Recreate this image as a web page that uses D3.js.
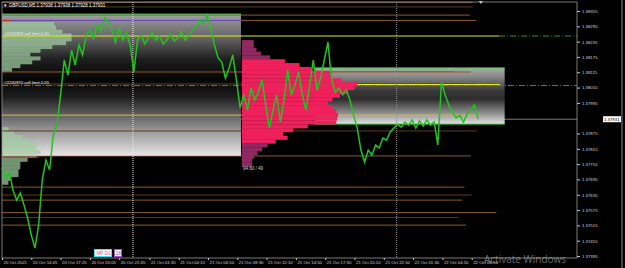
<!DOCTYPE html>
<html lang="en">
<head>
<meta charset="UTF-8" />
<title>GBPUSD,M5</title>
<script src="https://cdn.jsdelivr.net/npm/d3@7"></script>
<style>
  body { margin: 0; background: #000; overflow: hidden; }
  svg { display: block; font-family: "Liberation Sans", Arial, sans-serif; }
</style>
</head>
<body>
<svg id="chart"></svg>
<script>
const W = 625, H = 268;
const frame = {left: 2, right: 577, top: 2, bottom: 258};

// x is counted in 5-minute bars from 20 Oct 2021 12:05
const barCount = 628;
const closeStep = 4; // one close read every 4 bars
const closes = [
  1.37740, 1.37700, 1.37724, 1.37653, 1.37614, 1.37642, 1.37595, 1.37544, 1.37477, 1.37426,
  1.37516, 1.37693, 1.37771, 1.37732, 1.37869, 1.37908, 1.38026, 1.38163, 1.38104, 1.38202,
  1.38143, 1.38222, 1.38183, 1.38261, 1.38281, 1.38249, 1.38300, 1.38273, 1.38328, 1.38312,
  1.38281, 1.38233, 1.38288, 1.38241, 1.38269, 1.38222, 1.38116, 1.38241, 1.38261, 1.38226,
  1.38249, 1.38269, 1.38241, 1.38257, 1.38226, 1.38241, 1.38265, 1.38237, 1.38249, 1.38273,
  1.38241, 1.38257, 1.38281, 1.38296, 1.38320, 1.38304, 1.38339, 1.38288, 1.38222, 1.38171,
  1.38155, 1.38092, 1.38132, 1.38183, 1.38085, 1.37975, 1.38026, 1.37967, 1.38053, 1.38006,
  1.38037, 1.38085, 1.37987, 1.37896, 1.37967, 1.38026, 1.37920, 1.38006, 1.38124, 1.38026,
  1.38065, 1.38116, 1.38026, 1.37967, 1.38065, 1.38163, 1.38045, 1.38092, 1.38163, 1.38233,
  1.38085, 1.38037, 1.38053, 1.38026, 1.38045, 1.38006, 1.37947, 1.37896, 1.37810, 1.37763,
  1.37810, 1.37790, 1.37830, 1.37818, 1.37857, 1.37849, 1.37881, 1.37896, 1.37912, 1.37900,
  1.37920, 1.37908, 1.37928, 1.37896, 1.37924, 1.37904, 1.37928, 1.37908, 1.37920, 1.37830,
  1.38077, 1.38026, 1.37987, 1.37959, 1.37936, 1.37947, 1.37920, 1.37951, 1.37967, 1.37987,
  1.37931
];
const lastPrice = 1.37931;

const yTicks = [1.38355, 1.38295, 1.38235, 1.38175, 1.38115, 1.38055, 1.37995, 1.37875,
  1.37815, 1.37755, 1.37695, 1.37635, 1.37575, 1.37515, 1.37455, 1.37395];
const xTickBars = [0, 32, 64, 96, 128, 161, 193, 225, 257, 289, 321, 353, 385, 417, 449, 481, 513];
const xTickLabels = ["20 Oct 2021", "20 Oct 14:45", "20 Oct 17:25", "20 Oct 20:05", "20 Oct 22:45",
  "21 Oct 01:30", "21 Oct 04:10", "21 Oct 06:50", "21 Oct 09:30", "21 Oct 12:10", "21 Oct 14:50",
  "21 Oct 17:30", "21 Oct 20:10", "21 Oct 22:50", "22 Oct 01:30", "22 Oct 04:10", "22 Oct 06:50"];

// support / resistance levels (price, last bar)
const levelPrices = [1.38389, 1.38371, 1.38339, 1.38318, 1.38116, 1.38069, 1.37885, 1.37787,
  1.37665, 1.37634, 1.37614, 1.37565, 1.37546, 1.37516];
const levelEnds = [514, 514, 511, 518, 512, 517, 519, 512, 505, 513, 503, 540, 498, 507];
const levelShade = [0, 1, 0, 0, 0, 1, 1, 0, 0, 1, 0, 0, 1, 0];

// market profile rows
const rowStep = 0.00015;
const pinkTop = 1.38241, pinkStartBar = 262;
const pinkCounts = [13, 13, 16, 21, 31, 47, 63, 76, 98, 98, 109, 126, 123, 116, 107, 99, 94,
  99, 103, 105, 104, 103, 72, 56, 45, 50, 37, 28, 22, 17, 13, 11, 11];
const pinkValueArea = [5, 26];
const greenUpperTop = 1.38312;
const greenUpperCounts = [57, 59, 66, 76, 76, 70, 55, 42, 31, 42, 33, 20, 11];
const greenLowerTop = 1.37900;
const greenLowerCounts = [7, 13, 22, 31, 38, 38, 42, 37, 28, 20, 20, 18, 18, 9, 7];

// value area boxes [startBar, endBar, high, low]
const boxA = [0, 261, 1.38343, 1.37787];
const boxC = [342, 549, 1.38132, 1.37912];

const svg = d3.select("#chart").attr("width", W).attr("height", H)
  .style("background", "#000");

const x = d3.scaleLinear().domain([0, barCount]).range([frame.left, frame.right]);
const y = d3.scaleLinear().domain([1.37395, 1.38355]).range([256, 11]);

const defs = svg.append("defs");
function vGrad(id, stops) {
  const g = defs.append("linearGradient").attr("id", id)
    .attr("x1", 0).attr("y1", 0).attr("x2", 0).attr("y2", 1);
  stops.forEach(s => g.append("stop").attr("offset", s[0]).attr("stop-color", s[1]));
}
vGrad("gradA", [[0, "#a0a0a8"], [0.05, "#8c8c8c"], [0.18, "#606060"], [0.32, "#1e1e1e"],
  [0.46, "#060606"], [0.58, "#1c1c1c"], [0.7, "#5a5a5a"], [0.83, "#9c9c9c"], [0.96, "#d4d4d4"], [1, "#ece4e8"]]);
vGrad("gradC", [[0, "#aaaaaa"], [0.15, "#8a8a8a"], [0.4, "#3a3a3a"], [0.55, "#2c2c2c"],
  [0.8, "#8c8c8c"], [1, "#e2e2e2"]]);

const plot = svg.append("g");

// current price line sits under the boxes
plot.append("line")
  .attr("x1", frame.left).attr("x2", frame.right)
  .attr("y1", y(lastPrice)).attr("y2", y(lastPrice))
  .attr("stroke", "#7a7a7a").attr("stroke-width", 1);

// value area boxes
[[boxA, "gradA"], [boxC, "gradC"]].forEach(([b, g]) => {
  plot.append("rect")
    .attr("x", x(b[0])).attr("y", y(b[2]))
    .attr("width", x(b[1]) - x(b[0])).attr("height", y(b[3]) - y(b[2]))
    .attr("fill", `url(#${g})`);
});

// green profile of 20 Oct
function profile(top, counts, startBar, colorFn) {
  plot.append("g").selectAll("rect").data(counts).join("rect")
    .attr("x", x(startBar))
    .attr("y", (d, i) => y(top - i * rowStep))
    .attr("width", d => x(startBar + d) - x(startBar))
    .attr("height", y(0) - y(rowStep) + 0.2)
    .attr("fill", colorFn);
}
profile(greenUpperTop, greenUpperCounts, 0, () => "rgba(160,205,160,0.72)");
profile(greenLowerTop, greenLowerCounts, 0, () => "rgba(160,205,160,0.72)");

// levels
plot.append("g").selectAll("line").data(levelPrices).join("line")
  .attr("x1", frame.left).attr("x2", (d, i) => x(levelEnds[i]))
  .attr("y1", d => y(d)).attr("y2", d => y(d))
  .attr("stroke", (d, i) => levelShade[i] ? "#5e3b1c" : "#8f5c2e")
  .attr("stroke-width", 1);

function hline(p, b0, b1, color, dash) {
  plot.append("line")
    .attr("x1", x(b0)).attr("x2", x(b1))
    .attr("y1", y(p)).attr("y2", y(p))
    .attr("stroke", color).attr("stroke-width", 1)
    .attr("stroke-dasharray", dash || null);
}
// box borders and inner lines
hline(boxA[2], 0, boxA[1], "#2ed02e");
hline(1.38318, 0, boxA[1], "#6c4cc0");
hline(boxA[3] + 0.00003, 0, boxA[1], "#e8d0dc");
hline(boxC[2], boxC[0], boxC[1], "#30e030");
hline(boxC[3], boxC[0], boxC[1], "#30e030");
hline(1.38118, boxC[0], 494, "#7a5cc8");
hline(1.37947, 0, 519, "#d8b838");
hline(1.38067, boxC[0], 544, "#e8e820");
hline(1.38318, 0, 11, "#c03030");
hline(1.37782, 0, 40, "#c03030");

// sell limit orders
hline(1.38257, 0, 543, "#e6e61e");
hline(1.38257, 543, barCount, "#2a9a2a", "6,2,1,2");
hline(1.38063, 0, barCount, "#2a9a2a", "6,2,1,2");

// pink profile of 21 Oct
profile(pinkTop, pinkCounts, pinkStartBar, (d, i) =>
  i >= pinkValueArea[0] && i <= pinkValueArea[1] ? "#f0205c" : "#8e2a60");

// day separators
[[143, "#e8e8e8"], [431, "#8a8a8a"]].forEach(([b, c]) => {
  plot.append("line")
    .attr("x1", x(b)).attr("x2", x(b))
    .attr("y1", frame.top).attr("y2", frame.bottom)
    .attr("stroke", c).attr("stroke-dasharray", "1,1");
});

// price
const priceLine = d3.line()
  .x((d, i) => x(i * closeStep))
  .y(d => y(d));
plot.append("path").datum(closes)
  .attr("d", priceLine)
  .attr("fill", "none")
  .attr("stroke", "#22c422")
  .attr("stroke-width", 1.5)
  .attr("stroke-linejoin", "miter");

// frame
svg.append("rect")
  .attr("x", frame.left).attr("y", frame.top)
  .attr("width", frame.right - frame.left).attr("height", frame.bottom - frame.top)
  .attr("fill", "none").attr("stroke", "#9a9a9a").attr("stroke-width", 0.8);
svg.append("line").attr("x1", 622).attr("x2", 622).attr("y1", 0).attr("y2", H)
  .attr("stroke", "#8a8a8a");

// axes
const yAxis = svg.append("g")
  .attr("transform", `translate(${frame.right},0)`)
  .call(d3.axisRight(y).tickValues(yTicks).tickSize(3).tickFormat(d3.format(".5f")));
const xAxis = svg.append("g")
  .attr("transform", `translate(0,${frame.bottom})`)
  .call(d3.axisBottom(x).tickValues(xTickBars).tickSize(2).tickFormat((d, i) => xTickLabels[i]));
[yAxis, xAxis].forEach(a => {
  a.select(".domain").remove();
  a.selectAll("line").attr("stroke", "#c8c8c8");
  a.selectAll("text").attr("fill", "#d8d8d8").style("font-size", "4.3px");
});
yAxis.selectAll("text").attr("x", 5);
xAxis.selectAll("text").attr("text-anchor", "start").attr("x", 1).attr("y", 4).attr("dy", "0.5em");

// current price tag
svg.append("rect").attr("x", 603).attr("y", y(lastPrice) - 3)
  .attr("width", 18).attr("height", 6).attr("fill", "#fff");
svg.append("text").attr("x", 604).attr("y", y(lastPrice) + 1.6)
  .attr("fill", "#000").style("font-size", "4.3px").text(d3.format(".5f")(lastPrice));

// texts
svg.append("text").attr("x", 3).attr("y", 6.5).attr("fill", "#fff")
  .style("font-size", "4.5px").text("\u25BC GBPUSD,M5  1.37938 1.37938 1.37928 1.37931");
svg.append("text").attr("x", 4).attr("y", y(1.38257) - 1).attr("fill", "#f0f0f0")
  .style("font-size", "4.3px").text("#2240969 sell limit 0.05");
svg.append("text").attr("x", 4).attr("y", y(1.38063) - 1.5).attr("fill", "#f0f0f0")
  .style("font-size", "4.3px").text("#2240970 sell limit 0.05");
svg.append("text").attr("x", x(pinkStartBar) + 1).attr("y", 170).attr("fill", "#d0d0d0")
  .style("font-size", "4.5px").text("94.60 / 49");

// chart shift marker
svg.append("path").attr("d", `M${x(523) - 2},1 h4 l-2,3 z`).attr("fill", "#c8c8c8");

// MP D1 buttons
svg.append("rect").attr("x", 94.5).attr("y", 249.5).attr("width", 17).attr("height", 7)
  .attr("fill", "#ffffff").attr("stroke", "#40e0e8").attr("stroke-width", 1);
svg.append("text").attr("x", 96.5).attr("y", 255).attr("fill", "#ff3a8a")
  .style("font-size", "4.6px").text("MP D1");
svg.append("rect").attr("x", 114.5).attr("y", 249.5).attr("width", 7).attr("height", 7)
  .attr("fill", "#ffffff").attr("stroke", "#b050d0").attr("stroke-width", 1);
svg.append("text").attr("x", 115.8).attr("y", 255).attr("fill", "#9a30c0")
  .style("font-size", "4.6px").text("18");

// windows watermark
svg.append("text").attr("x", 484).attr("y", 263).attr("fill", "rgba(255,255,255,0.42)")
  .style("font-family", "'Open Sans', sans-serif").style("font-size", "10px").text("Activate Windows");
</script>
</body>
</html>
